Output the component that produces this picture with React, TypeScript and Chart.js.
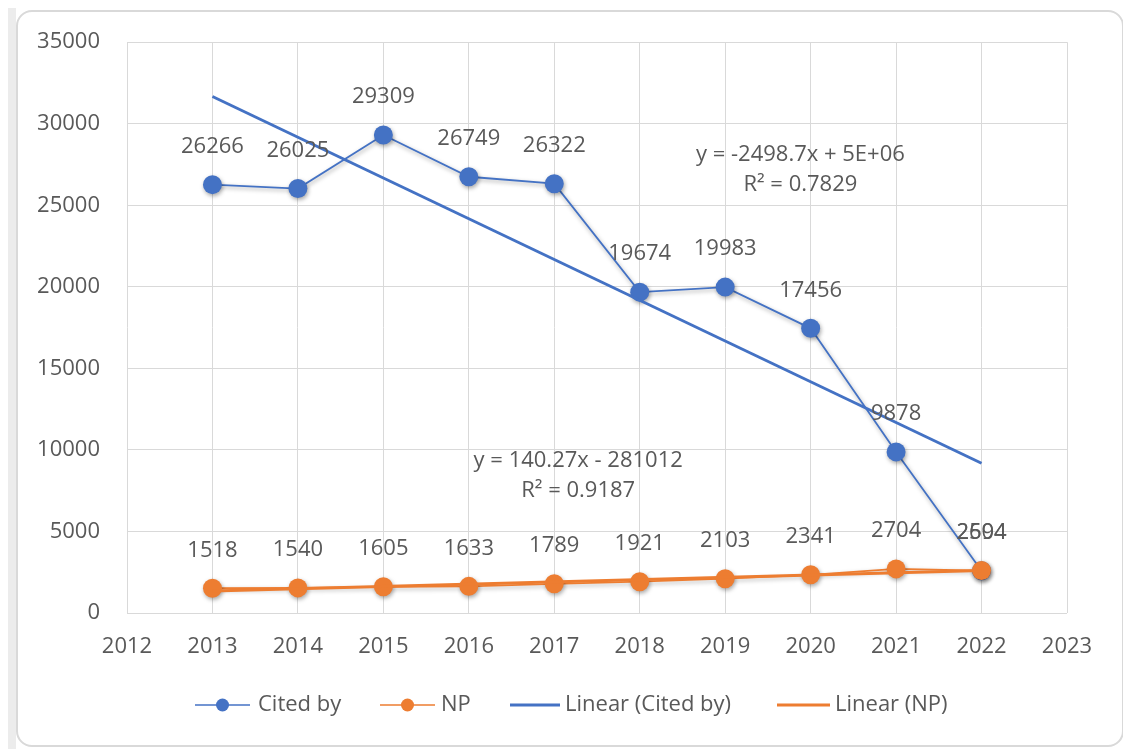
import React, { useEffect, useRef } from "react";
import { Chart, registerables } from "chart.js";

Chart.register(...registerables);

const years = [2013, 2014, 2015, 2016, 2017, 2018, 2019, 2020, 2021, 2022];
const citedBy = [26266, 26025, 29309, 26749, 26322, 19674, 19983, 17456, 9878, 2594];
const np = [1518, 1540, 1605, 1633, 1789, 1921, 2103, 2341, 2704, 2604];
const xRange = [2012, 2023];
const yRange = [0, 35000];
const yStep = 5000;
const seriesNames = ["Cited by", "NP", "Linear (Cited by)", "Linear (NP)"];
const citedEquation = ["y = -2498.7x + 5E+06", "R² = 0.7829"];
const npEquation = ["y = 140.27x - 281012", "R² = 0.9187"];

const BLUE = "#4472C4";
const ORANGE = "#ED7D31";
const TEXT = "#595959";
const GRID = "#d9d9d9";
const FONT = "'Open Sans', 'Liberation Sans', sans-serif";

function linreg(xs: number[], ys: number[]) {
  const n = xs.length;
  const mx = xs.reduce((a, b) => a + b, 0) / n;
  const my = ys.reduce((a, b) => a + b, 0) / n;
  let sxy = 0;
  let sxx = 0;
  for (let i = 0; i < n; i++) {
    sxy += (xs[i] - mx) * (ys[i] - my);
    sxx += (xs[i] - mx) * (xs[i] - mx);
  }
  const m = sxy / sxx;
  return { m, b: my - m * mx };
}

function trend(xs: number[], ys: number[]) {
  const { m, b } = linreg(xs, ys);
  const x0 = xs[0];
  const x1 = xs[xs.length - 1];
  return [
    { x: x0, y: m * x0 + b },
    { x: x1, y: m * x1 + b },
  ];
}

const shadowPlugin = {
  id: "shadowPlugin",
  beforeDatasetDraw(chart: any, args: any) {
    if (args.index > 1) return;
    const ctx = chart.ctx;
    ctx.save();
    ctx.shadowColor = "rgba(0,0,0,0.35)";
    ctx.shadowBlur = 4;
    ctx.shadowOffsetX = 1;
    ctx.shadowOffsetY = 2;
  },
  afterDatasetDraw(chart: any, args: any) {
    if (args.index > 1) return;
    chart.ctx.restore();
  },
};

const labelsPlugin = {
  id: "labelsPlugin",
  afterDatasetsDraw(chart: any) {
    const ctx = chart.ctx;
    ctx.save();
    ctx.font = `22px ${FONT}`;
    ctx.fillStyle = TEXT;
    ctx.textAlign = "center";
    ctx.textBaseline = "middle";
    [0, 1].forEach((di) => {
      const meta = chart.getDatasetMeta(di);
      const ds = chart.data.datasets[di];
      meta.data.forEach((pt: any, i: number) => {
        ctx.fillText(String(ds.data[i].y), pt.x, pt.y - 38);
      });
    });
    const xs = chart.scales.x;
    const ys = chart.scales.y;
    const drawEq = (lines: string[], xv: number, yv: number) => {
      const px = xs.getPixelForValue(xv);
      const py = ys.getPixelForValue(yv);
      ctx.fillText(lines[0], px, py);
      ctx.fillText(lines[1], px, py + 30);
    };
    drawEq(citedEquation, 2019.88, 28074);
    drawEq(npEquation, 2017.28, 9317);
    ctx.restore();
  },
  afterDraw(chart: any) {
    const ctx = chart.ctx;
    ctx.save();
    ctx.font = `22px ${FONT}`;
    ctx.fillStyle = TEXT;
    ctx.textAlign = "left";
    ctx.textBaseline = "middle";
    const y = 703;
    const items = [
      { color: BLUE, marker: true, x0: 187, x1: 242, tx: 250, w: 1.5 },
      { color: ORANGE, marker: true, x0: 372, x1: 427, tx: 433, w: 1.5 },
      { color: BLUE, marker: false, x0: 502, x1: 552, tx: 557, w: 3 },
      { color: ORANGE, marker: false, x0: 769, x1: 822, tx: 827, w: 3 },
    ];
    items.forEach((it, i) => {
      ctx.strokeStyle = it.color;
      ctx.lineWidth = it.w;
      ctx.beginPath();
      ctx.moveTo(it.x0, y);
      ctx.lineTo(it.x1, y);
      ctx.stroke();
      if (it.marker) {
        ctx.fillStyle = it.color;
        ctx.beginPath();
        ctx.arc((it.x0 + it.x1) / 2, y, 6.5, 0, Math.PI * 2);
        ctx.fill();
      }
      ctx.fillStyle = TEXT;
      ctx.fillText(seriesNames[i], it.tx, y);
    });
    ctx.restore();
  },
};

export default function App() {
  const ref = useRef<HTMLCanvasElement>(null);

  useEffect(() => {
    if (!ref.current) return;
    const chart = new Chart(ref.current, {
      type: "line",
      data: {
        datasets: [
          {
            label: seriesNames[0],
            data: years.map((x, i) => ({ x, y: citedBy[i] })),
            borderColor: BLUE,
            backgroundColor: BLUE,
            borderWidth: 1.8,
            pointRadius: 9.5,
            pointBorderWidth: 0,
            pointBackgroundColor: BLUE,
            tension: 0,
            order: 4,
          },
          {
            label: seriesNames[1],
            data: years.map((x, i) => ({ x, y: np[i] })),
            borderColor: ORANGE,
            backgroundColor: ORANGE,
            borderWidth: 1.8,
            pointRadius: 9.5,
            pointBorderWidth: 0,
            pointBackgroundColor: ORANGE,
            tension: 0,
            order: 3,
          },
          {
            label: seriesNames[2],
            data: trend(years, citedBy),
            borderColor: BLUE,
            borderWidth: 3,
            pointRadius: 0,
            order: 2,
          },
          {
            label: seriesNames[3],
            data: trend(years, np),
            borderColor: ORANGE,
            borderWidth: 3,
            pointRadius: 0,
            order: 1,
          },
        ],
      },
      options: {
        responsive: false,
        animation: false,
        events: [],
        layout: { padding: { left: 0, right: 56, top: 22.8, bottom: 74 } },
        plugins: {
          legend: { display: false },
          tooltip: { enabled: false },
        },
        scales: {
          x: {
            type: "linear",
            min: xRange[0],
            max: xRange[1],
            afterFit: (s: any) => {
              s.height = 50;
            },
            ticks: {
              stepSize: 1,
              padding: 21,
              color: TEXT,
              font: { family: FONT, size: 22 },
              callback: (v: any) => String(v),
            },
            grid: { color: GRID, drawTicks: false, lineWidth: 1 },
            border: { display: false },
          },
          y: {
            type: "linear",
            min: yRange[0],
            max: yRange[1],
            afterFit: (s: any) => {
              s.width = 119;
            },
            ticks: {
              stepSize: yStep,
              padding: 27,
              color: TEXT,
              font: { family: FONT, size: 22 },
              callback: (v: any) => String(v),
            },
            grid: { color: GRID, drawTicks: false, lineWidth: 1 },
            border: { display: false },
          },
        },
      },
      plugins: [shadowPlugin, labelsPlugin],
    } as any);
    return () => chart.destroy();
  }, []);

  return (
    <div style={{ position: "relative", width: 1115, height: 741 }}>
      <div
        style={{
          position: "absolute",
          left: 0,
          top: 0,
          width: 8,
          height: 741,
          background: "#ececec",
        }}
      />
      <div
        style={{
          position: "absolute",
          left: 8,
          top: 2,
          width: 1104,
          height: 733,
          border: "2px solid #d9d9d9",
          borderRadius: 16,
          background: "#fff",
        }}
      />
      <canvas
        ref={ref}
        width={1115}
        height={735}
        style={{ position: "absolute", left: 0, top: -6, width: 1115, height: 735 }}
      />
    </div>
  );
}
